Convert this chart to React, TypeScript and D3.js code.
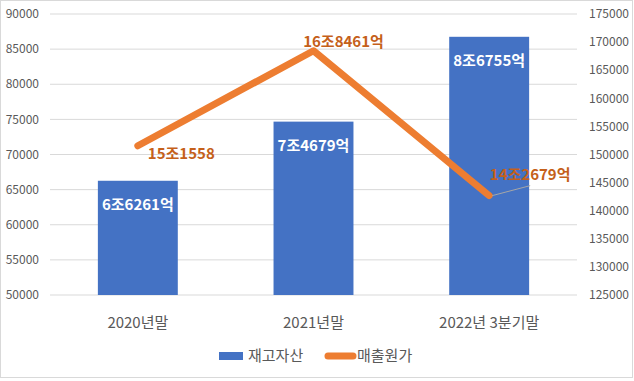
import React from "react";
import * as d3 from "d3";

const categories = ["2020년말", "2021년말", "2022년 3분기말"];
const inventory = [66261, 74679, 86755];
const costOfSales = [151558, 168461, 142679];
const inventoryLabels = ["6조6261억", "7조4679억", "8조6755억"];
const costLabels = ["15조1558", "16조8461억", "14조2679억"];
const leftTicks = [50000, 55000, 60000, 65000, 70000, 75000, 80000, 85000, 90000];
const rightTicks = [125000, 130000, 135000, 140000, 145000, 150000, 155000, 160000, 165000, 170000, 175000];
const seriesNames = ["재고자산", "매출원가"];

const W = 634, H = 381;
const plotL = 50, plotR = 577, plotT = 14, plotB = 295;
const BLUE = "#4472C4", ORANGE = "#ED7D31", LABEL_OR = "#C5601A", GRID = "#D9D9D9", TXT = "#595959";
const FONT = "'Noto Sans CJK KR', 'Noto Sans', sans-serif";

export default function App() {
  const x = d3.scaleBand<string>().domain(categories).range([plotL, plotR]).paddingInner(0.545).paddingOuter(0.2725);
  const yL = d3.scaleLinear().domain([50000, 90000]).range([plotB, plotT]);
  const yR = d3.scaleLinear().domain([125000, 175000]).range([plotB, plotT]);
  const cx = (c: string) => (x(c) as number) + x.bandwidth() / 2;
  const line = d3.line<number>().x((_, i) => cx(categories[i])).y((d) => yR(d));

  const costPos = [
    { dx: 10, dy: 8, anchor: "start" },
    { dx: 30, dy: -9, anchor: "middle" },
    { dx: 41, dy: -21, anchor: "middle" },
  ];

  return (
    <svg width={W} height={H} style={{ position: "fixed", left: 0, top: 0, background: "#fff" }} fontFamily={FONT}>
      <rect x={0.5} y={0.5} width={W - 2} height={H - 4} fill="#fff" stroke="#D9D9D9" />
      {leftTicks.map((t) => (
        <g key={"l" + t}>
          <line x1={plotL} x2={plotR} y1={yL(t)} y2={yL(t)} stroke={GRID} strokeWidth={1} />
          <text x={39} y={yL(t)} dy="0.35em" textAnchor="end" fontSize={12} fill={TXT}>{t}</text>
        </g>
      ))}
      {rightTicks.map((t) => (
        <text key={"r" + t} x={589} y={yR(t)} dy="0.35em" textAnchor="start" fontSize={12} fill={TXT}>{t}</text>
      ))}
      {categories.map((c, i) => (
        <g key={c}>
          <rect x={x(c)} y={yL(inventory[i])} width={x.bandwidth()} height={plotB - yL(inventory[i])} fill={BLUE} />
          <text x={cx(c)} y={yL(inventory[i]) + 24} dy="0.35em" textAnchor="middle" fontSize={15} fontWeight="bold" fill="#fff">{inventoryLabels[i]}</text>
          <text x={cx(c)} y={323} dy="0.35em" textAnchor="middle" fontSize={15} fill={TXT}>{c}</text>
        </g>
      ))}
      <path d={line(costOfSales) || ""} fill="none" stroke={ORANGE} strokeWidth={7} strokeLinecap="round" strokeLinejoin="round" />
      <line x1={cx(categories[2]) + 3} y1={yR(costOfSales[2])} x2={cx(categories[2]) + 41} y2={yR(costOfSales[2]) - 10} stroke="#A6A6A6" strokeWidth={1} />
      {categories.map((c, i) => (
        <text key={"cl" + c} x={cx(c) + costPos[i].dx} y={yR(costOfSales[i]) + costPos[i].dy} dy="0.35em" textAnchor={costPos[i].anchor} fontSize={15} fontWeight="bold" fill={LABEL_OR}>{costLabels[i]}</text>
      ))}
      <rect x={219} y={352} width={24} height={8} fill={BLUE} />
      <text x={248} y={356} dy="0.35em" fontSize={15} fill={TXT}>{seriesNames[0]}</text>
      <line x1={328} x2={353} y1={356} y2={356} stroke={ORANGE} strokeWidth={7} strokeLinecap="round" />
      <text x={357} y={356} dy="0.35em" fontSize={15} fill={TXT}>{seriesNames[1]}</text>
    </svg>
  );
}
